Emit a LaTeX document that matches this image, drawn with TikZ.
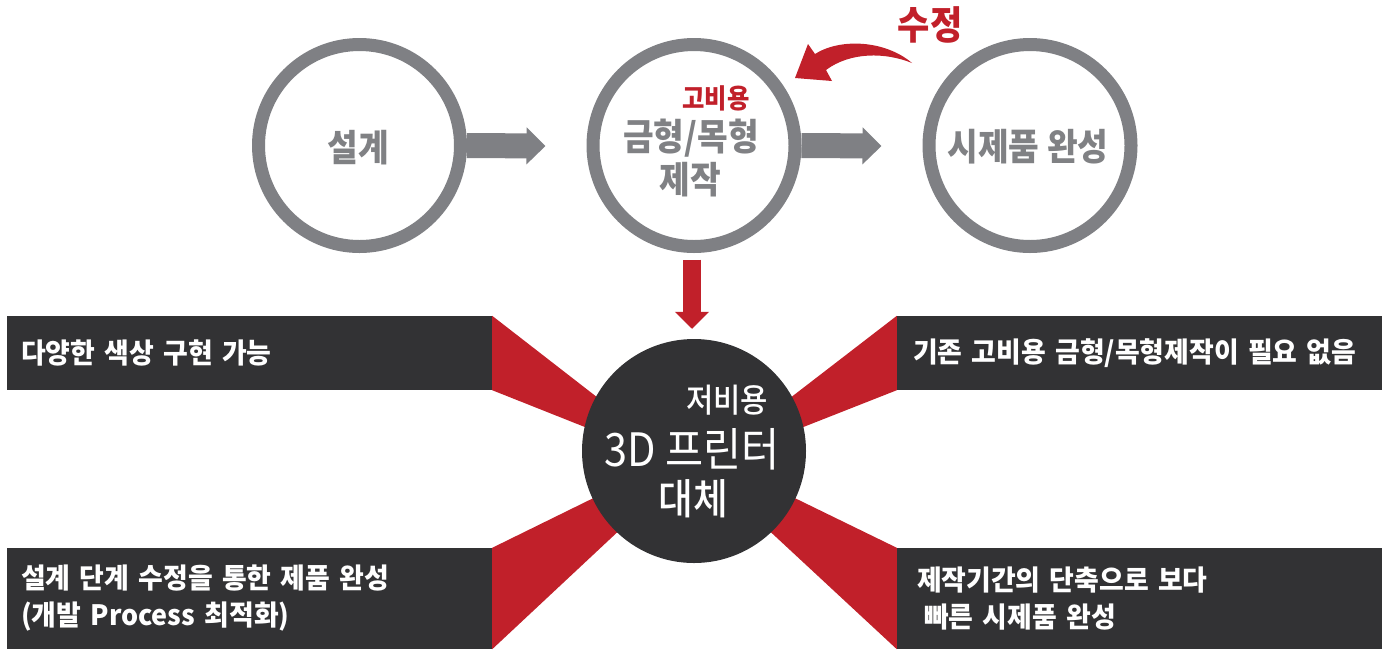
\documentclass[tikz,border=0pt]{standalone}
\usepackage{fontspec}
\setmainfont{Noto Sans CJK KR}[FakeStretch=0.9]
\newfontfamily\krmed{Noto Sans CJK KR Medium}[FakeStretch=0.9]
\newfontfamily\krbox{Noto Sans CJK KR}[FakeStretch=0.96,WordSpace=0.7]
\usetikzlibrary{arrows.meta,calc,backgrounds}
\definecolor{ringgray}{HTML}{7F8084}
\definecolor{txtgray}{HTML}{808184}
\definecolor{kred}{HTML}{C1202A}
\definecolor{kdark}{HTML}{323234}
\begin{document}
\begin{tikzpicture}[x=1pt,y=-1pt,
  ring/.style={circle,draw=ringgray,line width=13pt,fill=white,minimum size=202pt,inner sep=0pt},
  graytxt/.style={text=txtgray,font=\fontsize{37}{42}\selectfont\bfseries,inner sep=0pt,align=center},
  darkcirc/.style={circle,fill=kdark,minimum size=224pt,inner sep=0pt},
  whitetxt/.style={text=white,inner sep=0pt},
  infobox/.style={fill=kdark,text=white,inner xsep=14pt,inner ysep=0pt,text width=457pt,align=left,
    font=\krbox\fontsize{28}{37}\selectfont\bfseries},
  grayarrow/.style={ringgray,line width=25pt,-{Triangle[length=19pt,width=36pt]}},
  redarrow/.style={kred,line width=18pt,-{Triangle[length=17pt,width=33pt]}},
  wedge/.style={fill=kred}
]
\useasboundingbox (0,0) rectangle (1391,649);

% circles
\node[ring] (c1) at (359.5,145.5) {};
\node[ring] (c2) at (694,145.5) {};
\node[ring] (c3) at (1030,145.5) {};
\node[graytxt] (t1) at (358,148) {설계};
\node[graytxt] (t3) at (1028,147) {시제품 완성};
\node[text=kred,font=\fontsize{27}{30}\selectfont\bfseries,inner sep=0pt] (t2a) at (716,98) {고비용};
\node[graytxt] (t2b) at (691,138) {금형/목형};
\node[graytxt] (t2c) at (690,180) {제작};

% gray block arrows
\draw[grayarrow] (c1.east) -- ($(c2.west)+(-41,0.5)$);
\draw[grayarrow] (c2.east) -- ($(c3.west)+(-41,0.5)$);

% curved red arrow
\fill[kred] (795,78) -- (808,44) -- (815,54) .. controls (840,38) and (885,40) .. (912,63)
  .. controls (885,52) and (850,52) .. (826,70) -- (832,81) -- cycle;
\node[text=kred,font=\fontsize{39}{40}\selectfont\bfseries,inner sep=0pt] (fix) at (930,25) {수정};

% dark circle
\node[darkcirc] (d) at (694,451) {};
\node[whitetxt,font=\krmed\fontsize{33}{34}\selectfont] (d1) at (727,400) {저비용};
\node[whitetxt,font=\fontsize{46}{48}\selectfont] (d2) at (692,449) {3D 프린터};
\node[whitetxt,font=\krmed\fontsize{42}{44}\selectfont] (d3) at (693,499) {대체};

% red down arrow
\draw[redarrow] ($(c2.south)+(-2,6.5)$) -- ($(d.north)+(-2,-10)$);

% boxes
\node[infobox,minimum height=74pt] (b1) at (249.5,353) {다양한 색상 구현 가능};
\node[infobox,minimum height=74pt] (b2) at (1139.5,353) {\hspace*{2pt}기존 고비용 금형/목형제작이 필요 없음};
\node[infobox,minimum height=101pt] (b3) at (249.5,598.5) {설계 단계 수정을 통한 제품 완성\\(개발 Process 최적화)};
\node[infobox,minimum height=101pt] (b4) at (1139.5,598.5) {\hspace*{6pt}제작기간의 단축으로 보다\\\hspace*{13pt}빠른 시제품 완성};

% red wedges
\begin{scope}[on background layer]
\fill[wedge] (b1.north east) -- ($(d.center)+(-74,-36)$) -- ($(d.center)+(-84,-14)$) -- (b1.south east) -- cycle;
\fill[wedge] (b2.north west) -- ($(d.center)+(74,-36)$) -- ($(d.center)+(84,-14)$) -- (b2.south west) -- cycle;
\fill[wedge] (b3.north east) -- ($(d.center)+(-74,34)$) -- ($(d.center)+(-54,60)$) -- (b3.south east) -- cycle;
\fill[wedge] (b4.north west) -- ($(d.center)+(74,34)$) -- ($(d.center)+(54,60)$) -- (b4.south west) -- cycle;
\end{scope}
\end{tikzpicture}
\end{document}
